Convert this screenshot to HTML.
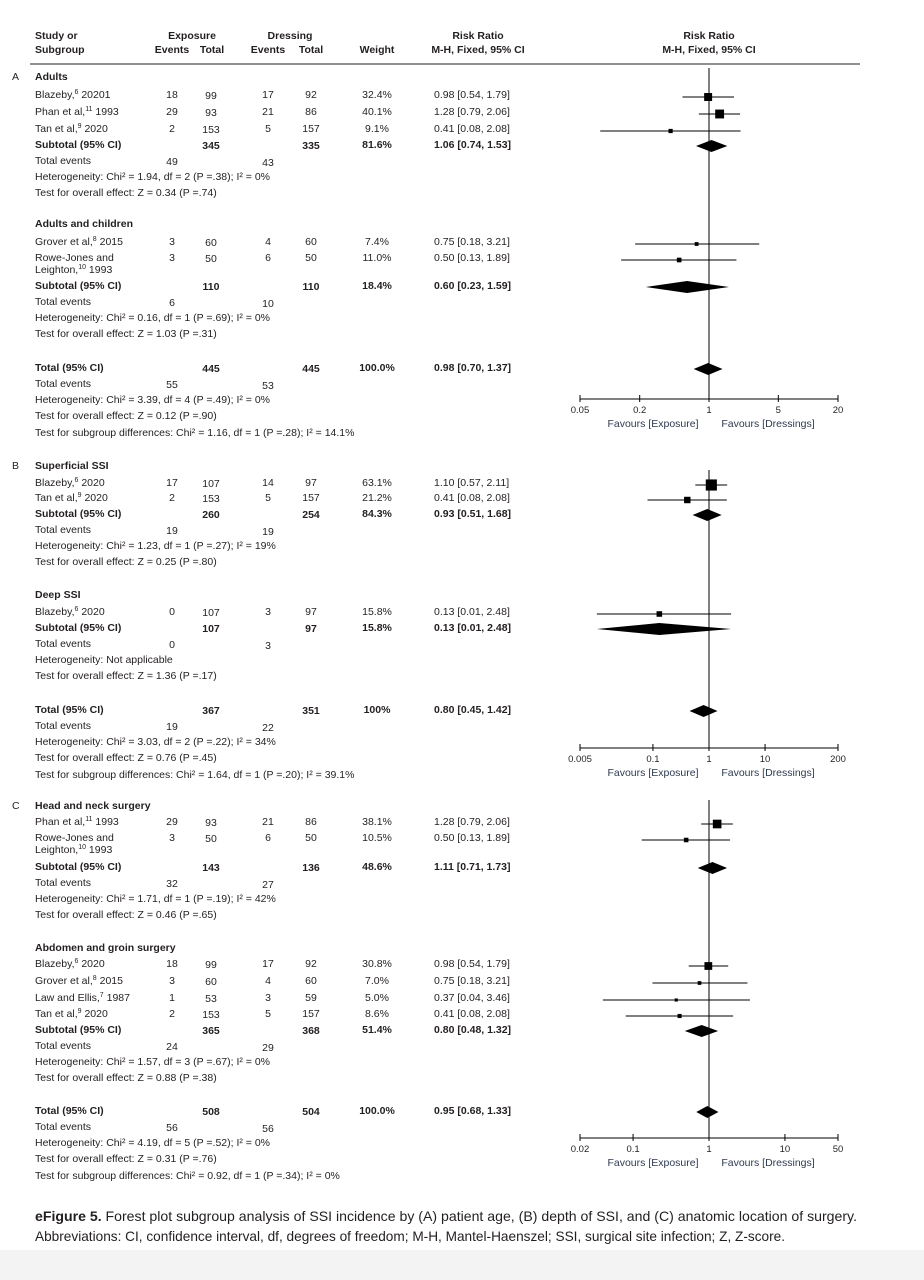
<!DOCTYPE html>
<html><head><meta charset="utf-8"><style>
body{margin:0;background:#fff}
svg{display:block;font-family:"Liberation Sans",sans-serif;}
text{fill:#231f20;font-size:10.5px}
.b{font-weight:bold}
.fav{fill:#2e3a4f;font-size:10.5px}
</style></head><body>
<svg id="c" width="924" height="1280" viewBox="0 0 924 1280">
<rect x="0" y="1250" width="924" height="30" fill="#f3f3f4"/>
</svg>
<script>
// ---- data ----
const panelLabels=["A","B","C"];
const axisTicksA=[0.05,0.2,1,5,20];
const axisTicksB=[0.005,0.1,1,10,200];
const axisTicksC=[0.02,0.1,1,10,50];
// study rows: [name, expEvents, expTotal, dresEvents, dresTotal, weight, rr, lo, hi, y]
const studiesA=[
["Blazeby,^6^ 20201",18,99,17,92,32.4,0.98,0.54,1.79,94],
["Phan et al,^11^ 1993",29,93,21,86,40.1,1.28,0.79,2.06,111],
["Tan et al,^9^ 2020",2,153,5,157,9.1,0.41,0.08,2.08,128],
["Grover et al,^8^ 2015",3,60,4,60,7.4,0.75,0.18,3.21,241],
["Rowe-Jones and|Leighton,^10^ 1993",3,50,6,50,11.0,0.50,0.13,1.89,257]];
const studiesB=[
["Blazeby,^6^ 2020",17,107,14,97,63.1,1.10,0.57,2.11,482],
["Tan et al,^9^ 2020",2,153,5,157,21.2,0.41,0.08,2.08,497],
["Blazeby,^6^ 2020",0,107,3,97,15.8,0.13,0.01,2.48,611]];
const studiesC=[
["Phan et al,^11^ 1993",29,93,21,86,38.1,1.28,0.79,2.06,821],
["Rowe-Jones and|Leighton,^10^ 1993",3,50,6,50,10.5,0.50,0.13,1.89,837],
["Blazeby,^6^ 2020",18,99,17,92,30.8,0.98,0.54,1.79,963],
["Grover et al,^8^ 2015",3,60,4,60,7.0,0.75,0.18,3.21,980],
["Law and Ellis,^7^ 1987",1,53,3,59,5.0,0.37,0.04,3.46,997],
["Tan et al,^9^ 2020",2,153,5,157,8.6,0.41,0.08,2.08,1013]];
// summaries: [label, expTotal, dresTotal, weight, rr, lo, hi, y, expEv, dresEv, het, test, subgroupTest]
const summA=[
["Subtotal (95% CI)",345,335,"81.6%",1.06,0.74,1.53,144,49,43,"Heterogeneity: Chi² = 1.94, df = 2 (P =.38); I² = 0%","Test for overall effect: Z = 0.34 (P =.74)",null],
["Subtotal (95% CI)",110,110,"18.4%",0.60,0.23,1.59,285,6,10,"Heterogeneity: Chi² = 0.16, df = 1 (P =.69); I² = 0%","Test for overall effect: Z = 1.03 (P =.31)",null],
["Total (95% CI)",445,445,"100.0%",0.98,0.70,1.37,367,55,53,"Heterogeneity: Chi² = 3.39, df = 4 (P =.49); I² = 0%","Test for overall effect: Z = 0.12 (P =.90)","Test for subgroup differences: Chi² = 1.16, df = 1 (P =.28); I² = 14.1%"]];
const summB=[
["Subtotal (95% CI)",260,254,"84.3%",0.93,0.51,1.68,513,19,19,"Heterogeneity: Chi² = 1.23, df = 1 (P =.27); I² = 19%","Test for overall effect: Z = 0.25 (P =.80)",null],
["Subtotal (95% CI)",107,97,"15.8%",0.13,0.01,2.48,627,0,3,"Heterogeneity: Not applicable","Test for overall effect: Z = 1.36 (P =.17)",null],
["Total (95% CI)",367,351,"100%",0.80,0.45,1.42,709,19,22,"Heterogeneity: Chi² = 3.03, df = 2 (P =.22); I² = 34%","Test for overall effect: Z = 0.76 (P =.45)","Test for subgroup differences: Chi² = 1.64, df = 1 (P =.20); I² = 39.1%"]];
const summC=[
["Subtotal (95% CI)",143,136,"48.6%",1.11,0.71,1.73,866,32,27,"Heterogeneity: Chi² = 1.71, df = 1 (P =.19); I² = 42%","Test for overall effect: Z = 0.46 (P =.65)",null],
["Subtotal (95% CI)",365,368,"51.4%",0.80,0.48,1.32,1029,24,29,"Heterogeneity: Chi² = 1.57, df = 3 (P =.67); I² = 0%","Test for overall effect: Z = 0.88 (P =.38)",null],
["Total (95% CI)",508,504,"100.0%",0.95,0.68,1.33,1110,56,56,"Heterogeneity: Chi² = 4.19, df = 5 (P =.52); I² = 0%","Test for overall effect: Z = 0.31 (P =.76)","Test for subgroup differences: Chi² = 0.92, df = 1 (P =.34); I² = 0%"]];
const groupsA=[["Adults",76],["Adults and children",223]];
const groupsB=[["Superficial SSI",465],["Deep SSI",594]];
const groupsC=[["Head and neck surgery",805],["Abdomen and groin surgery",947]];

const panels=[
{label:"A",ly:76,ticks:axisTicksA,studies:studiesA,summ:summA,groups:groupsA,top:68,axisY:399},
{label:"B",ly:465,ticks:axisTicksB,studies:studiesB,summ:summB,groups:groupsB,top:470,axisY:748},
{label:"C",ly:805,ticks:axisTicksC,studies:studiesC,summ:summC,groups:groupsC,top:800,axisY:1138}];

const NS="http://www.w3.org/2000/svg";
const svg=document.getElementById('c');
function el(tag,attrs,parent){const e=document.createElementNS(NS,tag);for(const k in attrs)e.setAttribute(k,attrs[k]);(parent||svg).appendChild(e);return e;}
function txt(s,x,y,opt,name){opt=opt||{};
 const t=el('text',{x:x,y:y,'text-anchor':opt.anchor||'start'});
 if(opt.bold)t.setAttribute('class','b');
 if(opt.cls)t.setAttribute('class',opt.cls);
 if(opt.size)t.style.fontSize=opt.size+'px';
 
 
 const parts=String(s).split('^');
 let raised=false;
 parts.forEach((p,i)=>{if(!p)return;const ts=el('tspan',{},t);ts.textContent=p;
  if(i%2==1){ts.setAttribute('dy','-4');ts.style.fontSize='7px';raised=true;}
  else if(raised){ts.setAttribute('dy','4');raised=false;}});
 return t;}
const X0=580,X1=838;
function xScaleFor(ticks){const lmin=Math.log(ticks[0]),lmax=Math.log(ticks[ticks.length-1]);return v=>X0+(Math.log(v)-lmin)/(lmax-lmin)*(X1-X0);}

// header
txt("Study or",35,39,{bold:1},'header-study');
txt("Subgroup",35,53,{bold:1},'header-subgroup');
txt("Exposure",192,39,{bold:1,anchor:'middle'},'header-exposure');
txt("Events",172,53,{bold:1,anchor:'middle'},'header-exp-events');
txt("Total",212,53,{bold:1,anchor:'middle'},'header-exp-total');
txt("Dressing",290,39,{bold:1,anchor:'middle'},'header-dressing');
txt("Events",268,53,{bold:1,anchor:'middle'},'header-dres-events');
txt("Total",311,53,{bold:1,anchor:'middle'},'header-dres-total');
txt("Weight",377,53,{bold:1,anchor:'middle'},'header-weight');
txt("Risk Ratio",478,39,{bold:1,anchor:'middle'},'header-rr');
txt("M-H, Fixed, 95% CI",478,53,{bold:1,anchor:'middle'},'header-rr-method');
txt("Risk Ratio",709,39,{bold:1,anchor:'middle'},'header-plot-rr');
txt("M-H, Fixed, 95% CI",709,53,{bold:1,anchor:'middle'},'header-plot-method');
let hl=el('line',{x1:30,x2:860,y1:64,y2:64,stroke:'#231f20','stroke-width':1});



panels.forEach(P=>{
 const xs=xScaleFor(P.ticks);
 txt(P.label,12,P.ly+4,{},'panel-label');
 P.groups.forEach(g=>txt(g[0],35,g[1]+4,{bold:1},'subgroup-title'));
 const ref=el('line',{x1:xs(1),x2:xs(1),y1:P.top,y2:P.axisY,stroke:'#000','stroke-width':1});
 
 
 const ax=el('line',{x1:X0,x2:X1,y1:P.axisY,y2:P.axisY,stroke:'#000','stroke-width':1});
 
 
 P.ticks.forEach(t=>{
  const tk=el('line',{x1:xs(t),x2:xs(t),y1:P.axisY-4,y2:P.axisY+3,stroke:'#000','stroke-width':1});
  
  
  txt(String(t),xs(t),P.axisY+14,{anchor:'middle',size:9.5},'x-tick-label');
 });
 txt("Favours [Exposure]",653,P.axisY+28,{anchor:'middle',cls:'fav'},'favours-exposure');
 txt("Favours [Dressings]",768,P.axisY+28,{anchor:'middle',cls:'fav'},'favours-dressings');
 P.studies.forEach(s=>{
  const y=s[9];const nm=s[0].split('|');
  txt(nm[0],35,y+4,{},'study-name');
  if(nm[1])txt(nm[1],35,y+16,{},'study-name-cont');
  txt(s[1],172,y+4,{anchor:'middle'},'exp-events');
  txt(s[2],211,y+5,{anchor:'middle'},'exp-total');
  txt(s[3],268,y+4,{anchor:'middle'},'dres-events');
  txt(s[4],311,y+4,{anchor:'middle'},'dres-total');
  txt(s[5].toFixed(1)+'%',377,y+4,{anchor:'middle'},'weight');
  txt(s[6].toFixed(2)+' ['+s[7].toFixed(2)+', '+s[8].toFixed(2)+']',434,y+4,{},'risk-ratio-ci');
  const my=y+3;
  const ci=el('line',{x1:xs(s[7]),x2:xs(s[8]),y1:my,y2:my,stroke:'#000','stroke-width':1});
  
  
  const sz=1.4*Math.sqrt(s[5]);
  const sq=el('rect',{x:xs(s[6])-sz/2,y:my-sz/2,width:sz,height:sz,fill:'#000'});
  
  
 });
 P.summ.forEach(m=>{
  const y=m[7];
  txt(m[0],35,y+4,{bold:1},'summary-label');
  txt(m[1],211,y+5,{anchor:'middle',bold:1},'summary-exp-total');
  txt(m[2],311,y+5,{anchor:'middle',bold:1},'summary-dres-total');
  txt(m[3],377,y+4,{anchor:'middle',bold:1},'summary-weight');
  txt(m[4].toFixed(2)+' ['+m[5].toFixed(2)+', '+m[6].toFixed(2)+']',434,y+4,{bold:1},'summary-rr-ci');
  txt("Total events",35,y+20,{},'total-events-label');
  txt(m[8],172,y+21,{anchor:'middle'},'total-exp-events');
  txt(m[9],268,y+22,{anchor:'middle'},'total-dres-events');
  txt(m[10],35,y+36,{},'heterogeneity');
  txt(m[11],35,y+52,{},'overall-effect');
  if(m[12])txt(m[12],35,y+69,{},'subgroup-differences');
  const dy=y+2;
  const d=el('polygon',{points:[xs(m[5])+','+dy, xs(m[4])+','+(dy-6), xs(m[6])+','+dy, xs(m[4])+','+(dy+6)].join(' '),fill:'#000'});
  
  
 });
});

const cap1=el('text',{x:35,y:1221,textLength:822,lengthAdjust:'spacingAndGlyphs'});
cap1.style.fontSize='14px';


const b=el('tspan',{'font-weight':'bold'},cap1);b.textContent='eFigure 5.';
const r=el('tspan',{},cap1);r.textContent=' Forest plot subgroup analysis of SSI incidence by (A) patient age, (B) depth of SSI, and (C) anatomic location of surgery.';
const cap2=el('text',{x:35,y:1241,textLength:750,lengthAdjust:'spacingAndGlyphs'});
cap2.style.fontSize='14px';
cap2.textContent='Abbreviations: CI, confidence interval, df, degrees of freedom; M-H, Mantel-Haenszel; SSI, surgical site infection; Z, Z-score.';


</script>
</body></html>
